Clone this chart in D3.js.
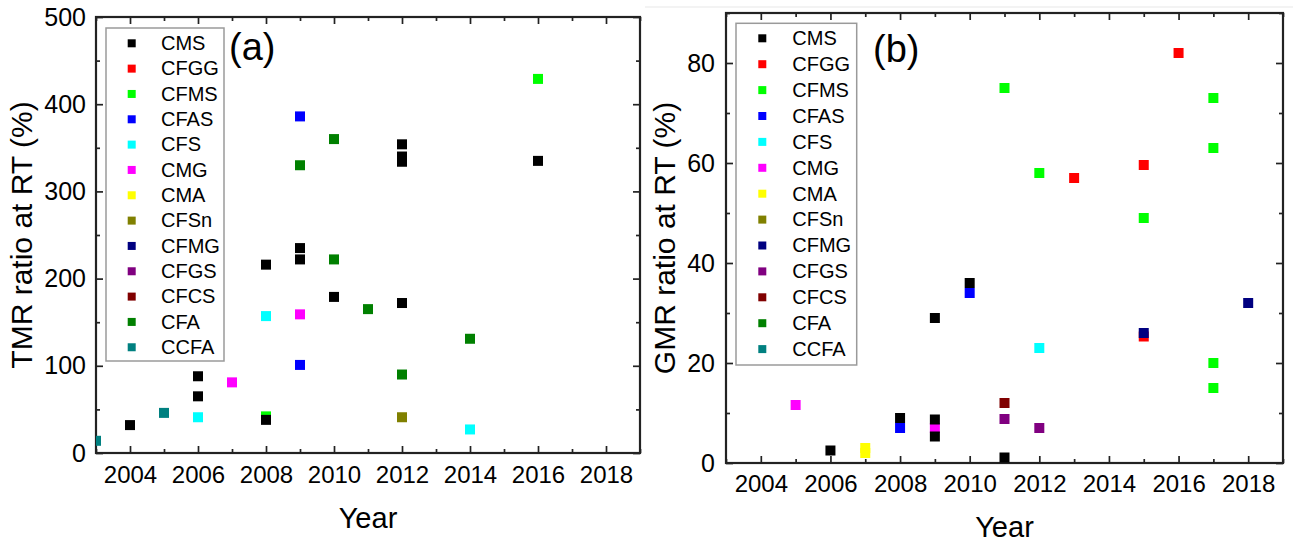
<!DOCTYPE html>
<html>
<head>
<meta charset="utf-8">
<script src="https://cdn.jsdelivr.net/npm/d3@7"></script>
<style>
  body { margin: 0; background: #fff; }
  svg { display: block; }
  text { font-family: "Liberation Sans", Arial, Helvetica, sans-serif; fill: #000; }
</style>
</head>
<body>
<svg id="chart" width="1293" height="544"></svg>
<script>
// Material families shown in both legends, with their marker colours
const seriesNames  = ["CMS", "CFGG", "CFMS", "CFAS", "CFS", "CMG", "CMA", "CFSn", "CFMG", "CFGS", "CFCS", "CFA", "CCFA"];
const seriesColors = ["#000000", "#ff0000", "#00ff00", "#0000ff", "#00ffff", "#ff00ff", "#ffff00", "#808000", "#000080", "#800080", "#800000", "#008000", "#008080"];

// Axis ticks
const yearTicks = [2004, 2006, 2008, 2010, 2012, 2014, 2016, 2018];
const yearMinorTicks = [2003, 2005, 2007, 2009, 2011, 2013, 2015, 2017, 2019];
const tmrTicks = [0, 100, 200, 300, 400, 500];
const tmrMinorTicks = [50, 150, 250, 350, 450];
const gmrTicks = [0, 20, 40, 60, 80];
const gmrMinorTicks = [10, 30, 50, 70, 90];

// (a) TMR ratio at RT (%) — [year, value]
const tmrCMS  = [[2004, 32], [2006, 88], [2006, 65], [2008, 38], [2008, 216], [2009, 235], [2009, 222], [2010, 179], [2012, 172], [2012, 354], [2012, 340], [2012, 334], [2016, 335]];
const tmrCFGG = [];
const tmrCFMS = [[2008, 42], [2016, 429]];
const tmrCFAS = [[2009, 386], [2009, 101]];
const tmrCFS  = [[2006, 41], [2008, 157], [2014, 27]];
const tmrCMG  = [[2007, 81], [2009, 159]];
const tmrCMA  = [];
const tmrCFSn = [[2012, 41]];
const tmrCFMG = [];
const tmrCFGS = [];
const tmrCFCS = [];
const tmrCFA  = [[2009, 330], [2010, 360], [2010, 222], [2011, 165], [2012, 90], [2014, 131]];
const tmrCCFA = [[2003, 14], [2005, 46]];

// (b) GMR ratio at RT (%) — [year, value]
const gmrCMS  = [[2006, 2.5], [2008, 9], [2009, 29], [2009, 8.7], [2009, 5.3], [2010, 36], [2011, 1.1]];
const gmrCFGG = [[2013, 57], [2015, 59.6], [2015, 25.3], [2016, 82]];
const gmrCFMS = [[2011, 75], [2012, 58], [2015, 49], [2017, 73], [2017, 63], [2017, 20], [2017, 15]];
const gmrCFAS = [[2008, 7], [2010, 34]];
const gmrCFS  = [[2012, 23]];
const gmrCMG  = [[2005, 11.6], [2009, 7]];
const gmrCMA  = [[2007, 3], [2007, 2]];
const gmrCFSn = [];
const gmrCFMG = [[2015, 26], [2018, 32]];
const gmrCFGS = [[2011, 8.8], [2012, 7]];
const gmrCFCS = [[2011, 12]];
const gmrCFA  = [];
const gmrCCFA = [];

const tmrSeries = [tmrCMS, tmrCFGG, tmrCFMS, tmrCFAS, tmrCFS, tmrCMG, tmrCMA, tmrCFSn, tmrCFMG, tmrCFGS, tmrCFCS, tmrCFA, tmrCCFA];
const gmrSeries = [gmrCMS, gmrCFGG, gmrCFMS, gmrCFAS, gmrCFS, gmrCMG, gmrCMA, gmrCFSn, gmrCFMG, gmrCFGS, gmrCFCS, gmrCFA, gmrCCFA];

const svg = d3.select("#chart");

// faint edge of the right-hand figure
svg.append("line").attr("x1", 645).attr("x2", 1293).attr("y1", 7).attr("y2", 7)
  .attr("stroke", "#efefef").attr("stroke-width", 1.5);

function drawPanel(cfg, id) {
  const x = d3.scaleLinear().domain([2003, 2019]).range([cfg.left, cfg.right]);
  const y = d3.scaleLinear().domain(cfg.yDomain).range([cfg.bottom, cfg.top]);
  const g = svg.append("g");

  g.append("clipPath").attr("id", id).append("rect")
    .attr("x", cfg.left).attr("y", cfg.top)
    .attr("width", cfg.right - cfg.left).attr("height", cfg.bottom - cfg.top);

  const axisColor = "#222";
  const style = sel => {
    sel.select(".domain").remove();
    sel.selectAll("line").attr("stroke", axisColor).attr("stroke-width", 1.7);
    sel.selectAll("text").attr("fill", "#000").style("font-family", "'Liberation Sans', Arial, sans-serif");
  };

  // bottom axis with labels, inward ticks
  g.append("g").attr("transform", `translate(0,${cfg.bottom})`)
    .call(d3.axisBottom(x).tickValues(yearTicks).tickFormat(d3.format("d"))
      .tickSize(-7).tickSizeOuter(0).tickPadding(cfg.xPad))
    .call(style).call(s => s.selectAll("text").attr("font-size", 24));
  g.append("g").attr("transform", `translate(0,${cfg.bottom})`)
    .call(d3.axisBottom(x).tickValues(yearMinorTicks).tickFormat("").tickSize(-4).tickSizeOuter(0))
    .call(style);
  // top mirror
  g.append("g").attr("transform", `translate(0,${cfg.top})`)
    .call(d3.axisTop(x).tickValues(yearTicks).tickFormat("").tickSize(-7).tickSizeOuter(0))
    .call(style);
  g.append("g").attr("transform", `translate(0,${cfg.top})`)
    .call(d3.axisTop(x).tickValues(yearMinorTicks).tickFormat("").tickSize(-4).tickSizeOuter(0))
    .call(style);

  // left axis with labels
  g.append("g").attr("transform", `translate(${cfg.left},0)`)
    .call(d3.axisLeft(y).tickValues(cfg.yTicks).tickFormat(d3.format("d"))
      .tickSize(-7).tickSizeOuter(0).tickPadding(cfg.yPad))
    .call(style).call(s => s.selectAll("text").attr("font-size", 25));
  g.append("g").attr("transform", `translate(${cfg.left},0)`)
    .call(d3.axisLeft(y).tickValues(cfg.yMinor).tickFormat("").tickSize(-4).tickSizeOuter(0))
    .call(style);
  // right mirror
  g.append("g").attr("transform", `translate(${cfg.right},0)`)
    .call(d3.axisRight(y).tickValues(cfg.yTicks).tickFormat("").tickSize(-7).tickSizeOuter(0))
    .call(style);
  g.append("g").attr("transform", `translate(${cfg.right},0)`)
    .call(d3.axisRight(y).tickValues(cfg.yMinor).tickFormat("").tickSize(-4).tickSizeOuter(0))
    .call(style);

  // frame
  g.append("rect").attr("x", cfg.left).attr("y", cfg.top)
    .attr("width", cfg.right - cfg.left).attr("height", cfg.bottom - cfg.top)
    .attr("fill", "none").attr("stroke", axisColor).attr("stroke-width", 2.2);

  // markers: other families in legend order, CMS drawn last
  const order = d3.range(1, seriesNames.length).concat([0]);
  const pts = [];
  order.forEach(i => cfg.series[i].forEach(p => pts.push({ yr: p[0], v: p[1], c: seriesColors[i] })));
  const m = 10;
  g.append("g").attr("clip-path", `url(#${id})`)
    .selectAll("rect").data(pts).join("rect")
    .attr("x", d => x(d.yr) - m / 2).attr("y", d => y(d.v) - m / 2)
    .attr("width", m).attr("height", m)
    .attr("fill", d => d.c);

  // legend
  const L = cfg.legend;
  g.append("rect").attr("x", L.x).attr("y", L.y).attr("width", L.w).attr("height", L.h)
    .attr("fill", "#fff").attr("stroke", "#9a9a9a").attr("stroke-width", 1.5);
  const items = g.append("g").selectAll("g").data(seriesNames).join("g")
    .attr("transform", (d, i) => `translate(0,${L.first + i * L.step})`);
  items.append("rect").attr("x", L.markerX - 4).attr("y", -4).attr("width", 8).attr("height", 8)
    .attr("fill", (d, i) => seriesColors[i]);
  items.append("text").attr("x", L.textX).attr("y", 6.8).attr("font-size", 20).text(d => d);

  // panel tag
  g.append("text").attr("x", cfg.tag[0]).attr("y", cfg.tag[1]).attr("font-size", 38).text(cfg.tagText);

  // axis titles
  g.append("text").attr("x", (cfg.left + cfg.right) / 2).attr("y", cfg.xTitleY)
    .attr("text-anchor", "middle").attr("font-size", 29).text("Year");
  g.append("text")
    .attr("transform", `translate(${cfg.yTitleX},${(cfg.top + cfg.bottom) / 2}) rotate(-90)`)
    .attr("text-anchor", "middle").attr("font-size", 30).text(cfg.yTitle);
}

drawPanel({
  left: 96, right: 640, top: 17, bottom: 453,
  yDomain: [0, 500], yTicks: tmrTicks, yMinor: tmrMinorTicks,
  xPad: 13, yPad: 10,
  series: tmrSeries,
  legend: { x: 106, y: 28, w: 118, h: 333, first: 43.3, step: 25.33, markerX: 131.7, textX: 161 },
  tag: [229, 60], tagText: "(a)",
  xTitleY: 528, yTitleX: 32, yTitle: "TMR ratio at RT (%)"
}, "clipA");

drawPanel({
  left: 726, right: 1283, top: 13, bottom: 463,
  yDomain: [0, 90], yTicks: gmrTicks, yMinor: gmrMinorTicks,
  xPad: 12, yPad: 11,
  series: gmrSeries,
  legend: { x: 736, y: 23.3, w: 120.7, h: 341.7, first: 38.3, step: 25.9, markerX: 762.3, textX: 792.3 },
  tag: [873, 62], tagText: "(b)",
  xTitleY: 537, yTitleX: 675, yTitle: "GMR ratio at RT (%)"
}, "clipB");
</script>
</body>
</html>
